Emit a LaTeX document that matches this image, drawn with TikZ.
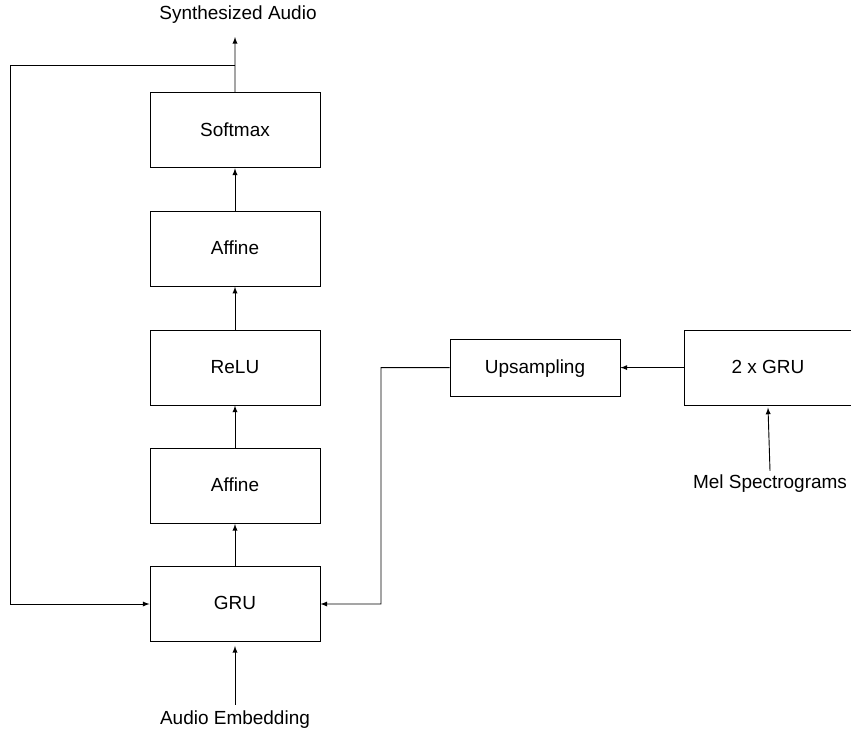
\documentclass[tikz,border=0pt]{standalone}
\usepackage{fontspec}
\setmainfont{Liberation Sans}
\usepackage{tikz}
\usetikzlibrary{shapes.geometric, arrows, positioning}
\tikzstyle{arrow} = [line width=0.65pt, ->, >=latex]
\tikzstyle{block} = [rectangle, draw, line width=0.65pt, minimum width=4.25cm, minimum height=1.875cm, text depth=0.25ex]
\tikzstyle{label} = [rectangle, inner sep=0pt]

\begin{document}
\begin{tikzpicture}[font=\fontsize{13.5}{16}\selectfont]
\useasboundingbox (0, 0) rectangle (21.275, -18.375);

\node (softmax) [block, xshift = 5.875cm, yshift = -3.26cm] {Softmax};
\node (affinetop) [block, xshift = 5.875cm, yshift = -6.22cm] {Affine};
\node (relu) [block, xshift = 5.875cm, yshift = -9.19cm] {ReLU};
\node (affinelow) [block, xshift = 5.875cm, yshift = -12.15cm] {Affine};
\node (gru) [block, xshift = 5.875cm, yshift = -15.1cm] {GRU};
\node (upsampling) [block, minimum height = 1.425cm, xshift = 13.375cm, yshift = -9.19cm] {Upsampling};
\node (twogru) [block, minimum width = 4.175cm, xshift = 19.2cm, yshift = -9.19cm] {2 x GRU};

\node (synth) [label, xshift = 5.95cm, yshift = -0.375cm] {Synthesized Audio};
\node (embed) [label, xshift = 5.875cm, yshift = -18.0cm] {Audio Embedding};
\node (mel) [label, xshift = 19.25cm, yshift = -12.1cm] {Mel Spectrograms};

\coordinate (split) at (5.875, -1.625);
\coordinate (loopcorner) at (0.25, -1.625);
\coordinate (upcorner) at (9.525, -9.19);

\draw[arrow] (softmax.north) -- (5.875, -0.925);
\draw[arrow] (affinetop) -- (softmax);
\draw[arrow] (relu) -- (affinetop);
\draw[arrow] (affinelow) -- (relu);
\draw[arrow] (gru) -- (affinelow);
\draw[arrow] ([yshift = 0.15cm] embed.north) -- ([yshift = -0.1cm] gru.south);

% loop back into the GRU
\draw[arrow] (split) -- (loopcorner) |- (gru.west);
\draw[arrow] (upsampling.west) -- (upcorner) |- (gru.east);
\draw[arrow] (twogru) -- (upsampling);
\draw[arrow] ([yshift = 0.1cm] mel.north) -- ([yshift = -0.05cm] twogru.south);
\end{tikzpicture}
\end{document}
